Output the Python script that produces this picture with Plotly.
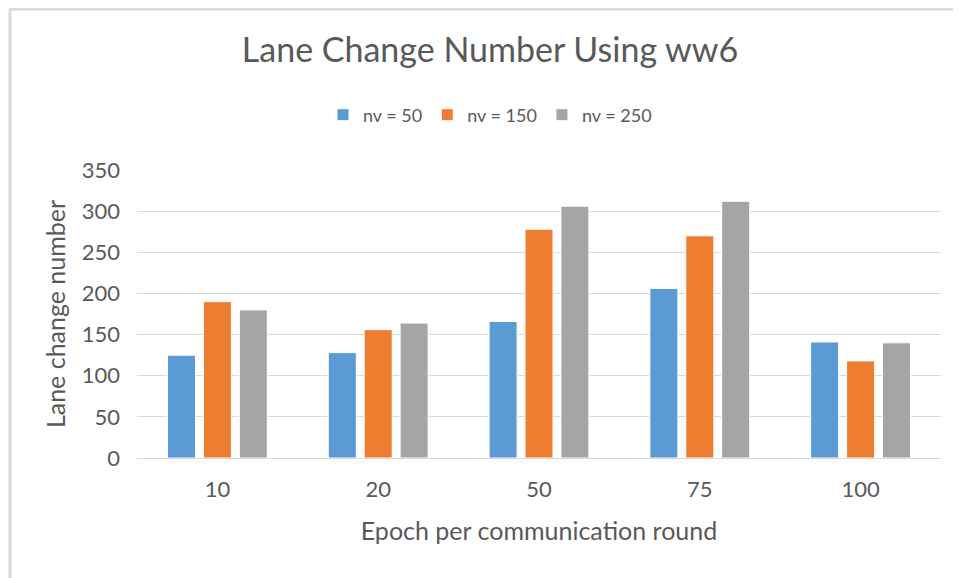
import plotly.graph_objects as go

categories = ["10", "20", "50", "75", "100"]
series_names = ["nv = 50", "nv = 150", "nv = 250"]
nv_50 = [125, 128, 166, 206, 141]
nv_150 = [190, 156, 278, 270, 118]
nv_250 = [180, 164, 306, 312, 140]
y_ticks = [0, 50, 100, 150, 200, 250, 300, 350]

colors = ["#5B9BD5", "#ED7D31", "#A5A5A5"]
font_name = "Lato"
text_color = "#595959"

# page has an 8px body margin, so the figure is 953x570
W, H = 953, 570
L, R, T, B = 129, 20, 162, 120
pw, ph = W - L - R, H - T - B

fig = go.Figure()
for name, vals, c in zip(series_names, [nv_50, nv_150, nv_250], colors):
    fig.add_trace(go.Bar(
        x=categories,
        y=vals,
        name=name,
        marker=dict(color=c, line=dict(color="white", width=1)),
    ))

fig.update_layout(
    width=W,
    height=H,
    paper_bgcolor="white",
    plot_bgcolor="white",
    barmode="group",
    bargap=0.33,
    bargroupgap=0.22,
    font=dict(family=font_name, color=text_color),
    title=dict(
        text="Lane Change Number Using ww6",
        x=482 / W, xref="container", xanchor="center",
        y=1 - 42 / H, yref="container", yanchor="middle",
        font=dict(size=34, color=text_color, family=font_name),
    ),
    legend=dict(
        orientation="h",
        x=482 / W, xref="container", xanchor="center",
        y=1 - 107 / H, yref="container", yanchor="middle",
        font=dict(size=18, color=text_color),
        itemwidth=30,
        traceorder="normal",
    ),
    xaxis=dict(
        type="category",
        showgrid=False,
        showline=True,
        linecolor="#d9d9d9",
        linewidth=1,
        tickfont=dict(size=22, color=text_color),
        ticklabelstandoff=12,
        title=dict(text="Epoch per communication round",
                   font=dict(size=25, color=text_color), standoff=21),
    ),
    yaxis=dict(
        range=[0, 350],
        tickvals=y_ticks,
        showgrid=True,
        gridcolor="#d9d9d9",
        gridwidth=1,
        zeroline=False,
        showline=False,
        tickfont=dict(size=22, color=text_color),
        ticklabelstandoff=16,
        title=dict(text="Lane change number",
                   font=dict(size=25, color=text_color), standoff=8),
    ),
    margin=dict(l=L, r=R, t=T, b=B),
    shapes=[
        dict(type="line", xref="paper", yref="paper",
             x0=(2 - L) / pw, x1=(2 - L) / pw,
             y0=-B / ph, y1=(ph + T - 1) / ph,
             line=dict(color="#d9d9d9", width=3)),
        dict(type="line", xref="paper", yref="paper",
             x0=(1 - L) / pw, x1=(W - L) / pw,
             y0=(ph + T - 1) / ph, y1=(ph + T - 1) / ph,
             line=dict(color="#d9d9d9", width=3)),
    ],
)

fig.write_html("out.html")
